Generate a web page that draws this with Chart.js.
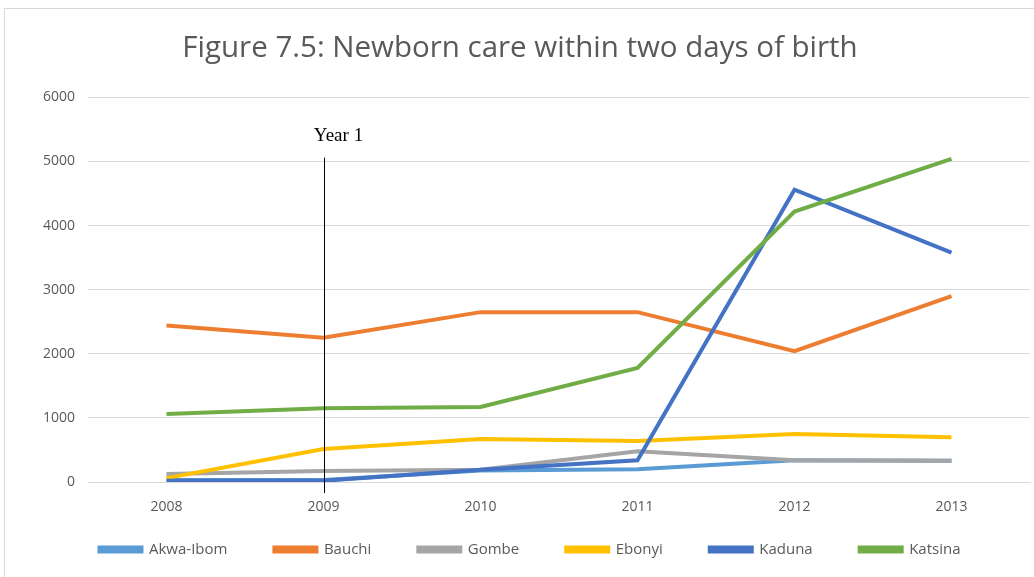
<!DOCTYPE html>
<html>
<head>
<meta charset="utf-8">
<script src="https://cdn.jsdelivr.net/npm/chart.js@4"></script>
<style>
  body { margin: 0; background: #fff; }
  #wrap { position: relative; width: 1034px; height: 577px; }
</style>
</head>
<body>
<div id="wrap"><canvas id="grafico"></canvas></div>
<script>
// dados
const anos = ['2008', '2009', '2010', '2011', '2012', '2013'];
const akwaIbom = [30, 30, 180, 200, 340, 330];
const bauchi = [2440, 2250, 2650, 2650, 2040, 2900];
const gombe = [125, 170, 190, 480, 340, 330];
const ebonyi = [60, 515, 670, 640, 750, 700];
const kaduna = [20, 20, 190, 340, 4560, 3580];
const katsina = [1060, 1150, 1170, 1780, 4220, 5040];
const ticksY = [0, 1000, 2000, 3000, 4000, 5000, 6000];

const fonte = '"Open Sans", sans-serif';
const cinza = '#595959';

function serie(label, data, cor, ordem) {
    return {
        label: label,
        data: data,
        borderColor: cor,
        backgroundColor: cor,
        borderWidth: 4,
        pointRadius: 0,
        tension: 0,
        order: ordem
    };
}

// moldura, legenda reposicionada e linha "Year 1"
const extras = {
    id: 'extras',
    afterLayout(chart) {
        const lg = chart.legend;
        lg.top = 495;
        lg.bottom = 577;
        lg.left += 10;
        lg.right += 10;
    },
    beforeDraw(chart) {
        const c = chart.ctx;
        c.save();
        c.strokeStyle = '#d9d9d9';
        c.lineWidth = 1;
        c.strokeRect(4.5, 8.5, 1100, 700);
        c.restore();
    },
    afterDatasetsDraw(chart) {
        const c = chart.ctx;
        const x = Math.round(chart.scales.x.getPixelForValue(1)) + 0.5;
        const yTop = chart.scales.y.getPixelForValue(5060);
        c.save();
        c.strokeStyle = '#000';
        c.lineWidth = 1;
        c.beginPath();
        c.moveTo(x, yTop);
        c.lineTo(x, chart.chartArea.bottom + 11);
        c.stroke();
        c.fillStyle = '#000';
        c.font = '19px "Liberation Serif", "Times New Roman", serif';
        c.textAlign = 'center';
        c.textBaseline = 'alphabetic';
        c.fillText('Year 1', x + 14, yTop - 17);
        c.restore();
    }
};

new Chart(document.getElementById('grafico'), {
    type: 'line',
    data: {
        labels: anos,
        datasets: [
            serie('Akwa-Ibom', akwaIbom, '#5B9BD5', 5),
            serie('Bauchi', bauchi, '#ED7D31', 4),
            serie('Gombe', gombe, '#A5A5A5', 3),
            serie('Ebonyi', ebonyi, '#FFC000', 2),
            serie('Kaduna', kaduna, '#4472C4', 1),
            serie('Katsina', katsina, '#70AD47', 0)
        ]
    },
    options: {
        responsive: true,
        maintainAspectRatio: false,
        animation: false,
        layout: { padding: { left: 10, right: 4, top: 10, bottom: 6 } },
        plugins: {
            title: {
                display: true,
                text: 'Figure 7.5: Newborn care within two days of birth',
                color: cinza,
                font: { family: fonte, size: 29.5, weight: 'normal' },
                padding: { top: 21, bottom: 31 }
            },
            legend: {
                position: 'bottom',
                maxHeight: 53,
                labels: {
                    color: cinza,
                    font: { family: fonte, size: 15 },
                    boxWidth: 42,
                    boxHeight: 4,
                    padding: 47,
                    sort: (a, b) => a.datasetIndex - b.datasetIndex
                }
            },
            tooltip: { enabled: false }
        },
        scales: {
            x: {
                offset: true,
                afterFit: s => { s.height = 36; },
                grid: { display: false, drawTicks: false },
                border: { color: '#d9d9d9' },
                ticks: { color: cinza, font: { family: fonte, size: 14 }, padding: 17 }
            },
            y: {
                min: 0,
                max: 6000,
                afterFit: s => { s.width = 78; },
                afterBuildTicks: s => { s.ticks = ticksY.map(v => ({ value: v })); },
                grid: { color: '#d9d9d9', drawTicks: false },
                border: { display: false },
                ticks: {
                    color: cinza,
                    font: { family: fonte, size: 14 },
                    padding: 13,
                    callback: v => String(v)
                }
            }
        }
    },
    plugins: [extras]
});
</script>
</body>
</html>
